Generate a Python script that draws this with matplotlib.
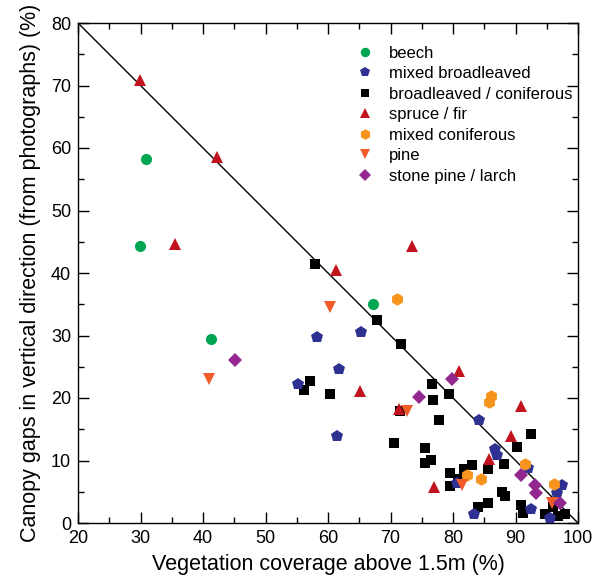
import matplotlib
matplotlib.use("Agg")
import matplotlib.pyplot as plt
from matplotlib.ticker import MultipleLocator

plt.rcParams['font.family'] = ['Liberation Sans', 'DejaVu Sans']

beech_x = [30.9, 29.9, 41.2, 67.2]
beech_y = [58.2, 44.3, 29.4, 35.0]

mixbroad_x = [58.2, 65.3, 61.8, 55.2, 61.4, 84.1, 86.7, 87.0, 92.0, 80.6, 83.3, 92.5, 97.4, 96.6, 95.5]
mixbroad_y = [29.8, 30.6, 24.6, 22.2, 14.0, 16.5, 11.8, 10.9, 8.8, 6.4, 1.4, 2.3, 6.1, 4.8, 0.75]

broadcon_x = [57.9, 67.8, 71.7, 57.1, 56.2, 60.3, 76.6, 79.3, 76.8, 71.6, 77.7, 70.6, 92.4,
              75.6, 90.2, 75.6, 76.5, 88.1, 85.6, 83.1, 81.7, 79.5, 80.8, 79.5, 87.8, 88.3,
              85.6, 84.0, 90.8, 91.2, 94.7, 96.8, 97.9, 96.0]
broadcon_y = [41.4, 32.5, 28.6, 22.8, 21.3, 20.6, 22.2, 20.6, 19.7, 17.9, 16.5, 12.8, 14.3,
              12.0, 12.2, 9.6, 10.1, 9.5, 8.6, 9.3, 8.6, 8.0, 7.0, 6.0, 5.0, 4.3,
              3.2, 2.6, 2.9, 1.6, 1.4, 1.1, 1.4, 2.6]

spruce_x = [29.9, 42.2, 35.5, 73.4, 61.3, 80.9, 65.1, 71.4, 90.8, 89.2, 85.8, 76.9]
spruce_y = [70.9, 58.5, 44.6, 44.3, 40.5, 24.3, 21.2, 18.2, 18.7, 14.0, 10.2, 5.7]

mixcon_x = [71.1, 86.1, 85.7, 91.5, 82.2, 84.5, 96.2]
mixcon_y = [35.8, 20.4, 19.4, 9.4, 7.7, 7.0, 6.2]

pine_x = [60.3, 40.9, 72.7, 81.4, 95.8]
pine_y = [34.6, 23.1, 17.9, 6.1, 3.2]

stone_x = [45.1, 79.8, 74.5, 90.8, 93.1, 93.3, 97.1]
stone_y = [26.1, 23.0, 20.2, 7.7, 6.1, 4.8, 3.2]

line_x = [20, 100]
line_y = [80, 0]

fig = plt.figure(figsize=(6.01, 5.85), dpi=100)
ax = fig.add_axes([78/601, 62/585, 500/601, 500/585])

ax.plot(line_x, line_y, color='black', lw=1.0, zorder=1)

series = [
    (broadcon_x, broadcon_y, 's', '#000000', 7.0, 'broadleaved / coniferous'),
    (mixbroad_x, mixbroad_y, 'p', '#2E3192', 9.0, 'mixed broadleaved'),
    (spruce_x, spruce_y, '^', '#C1141E', 8.5, 'spruce / fir'),
    (mixcon_x, mixcon_y, 'h', '#F7941D', 9.0, 'mixed coniferous'),
    (pine_x, pine_y, 'v', '#F15A29', 8.5, 'pine'),
    (stone_x, stone_y, 'D', '#92278F', 7.0, 'stone pine / larch'),
    (beech_x, beech_y, 'o', '#00A651', 8.0, 'beech'),
]
handles = {}
for xs, ys, m, c, ms, lab in series:
    h, = ax.plot(xs, ys, linestyle='none', marker=m, color=c, markersize=ms,
                 markeredgewidth=0, label=lab, zorder=3)
    handles[lab] = h

order = ['beech', 'mixed broadleaved', 'broadleaved / coniferous', 'spruce / fir',
         'mixed coniferous', 'pine', 'stone pine / larch']
leg = ax.legend([handles[k] for k in order], order, loc='upper left',
                bbox_to_anchor=(0.548, 0.968), frameon=False, fontsize=12,
                handlelength=0.8, handletextpad=1.0, labelspacing=0.33,
                borderaxespad=0, markerscale=0.85)

ax.set_xlim(20, 100)
ax.set_ylim(0, 80)
ax.xaxis.set_major_locator(MultipleLocator(10))
ax.xaxis.set_minor_locator(MultipleLocator(5))
ax.yaxis.set_major_locator(MultipleLocator(10))
ax.yaxis.set_minor_locator(MultipleLocator(5))
ax.tick_params(which='both', direction='in', top=True, right=True, labelsize=13, width=1.0)
ax.tick_params(which='major', length=8, pad=5)
ax.tick_params(which='minor', length=4)
for s in ax.spines.values():
    s.set_linewidth(1.0)

ax.set_xlabel('Vegetation coverage above 1.5m (%)', fontsize=15.5, labelpad=5)
ax.set_ylabel('Canopy gaps in vertical direction (from photographs) (%)', fontsize=15.5, labelpad=7)

fig.savefig('out.png', dpi=100)
